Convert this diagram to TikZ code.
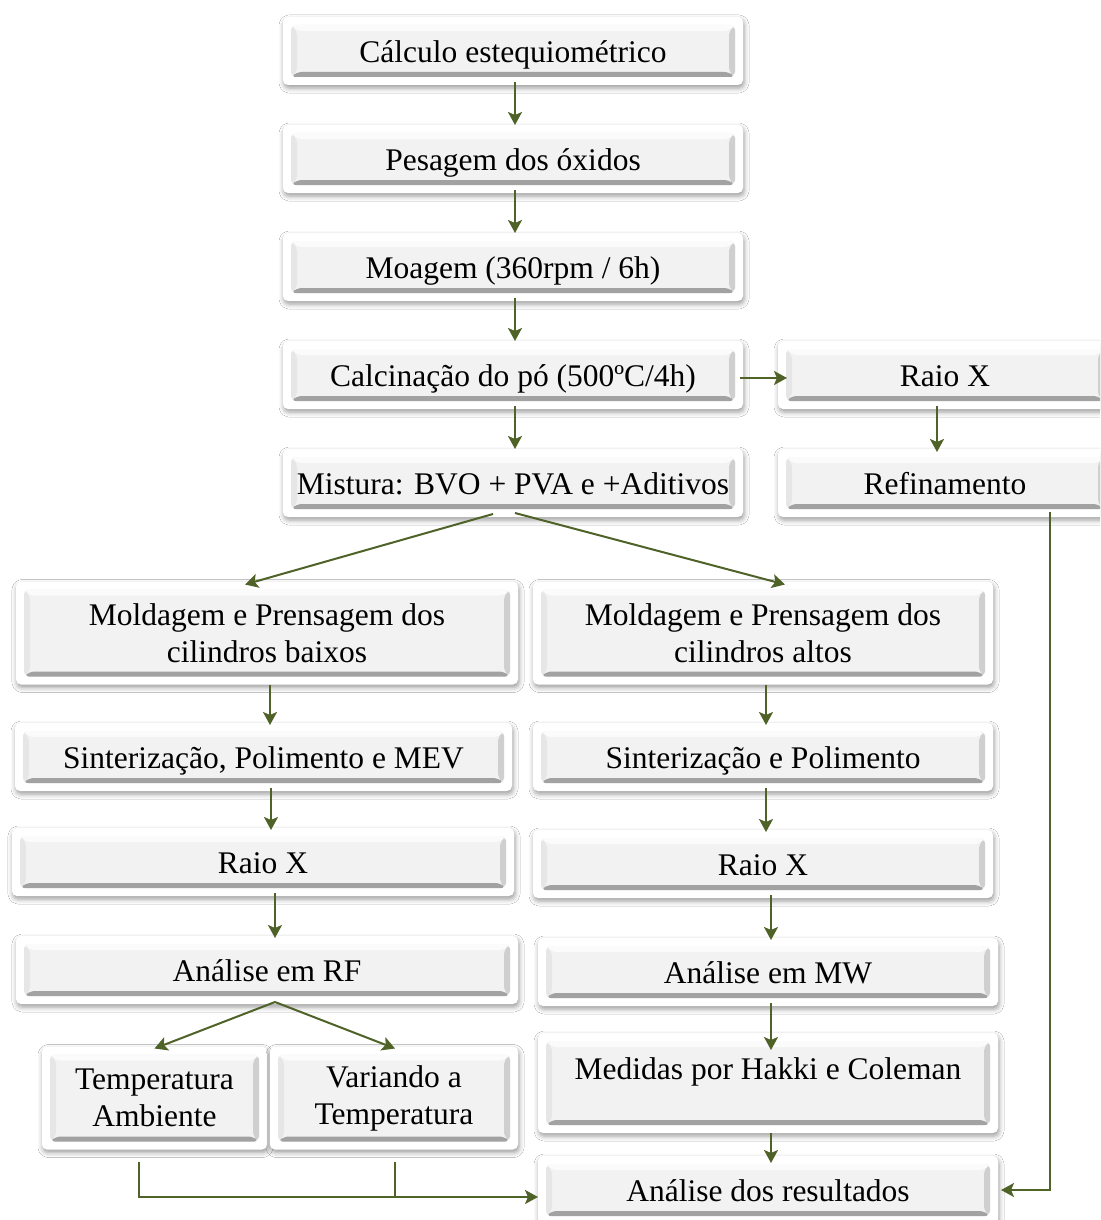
\documentclass[tikz,border=0pt]{standalone}
\usepackage{fontspec}
\setmainfont{Liberation Serif}
\usetikzlibrary{arrows.meta,shadows.blur,calc}
\definecolor{arrc}{HTML}{4F6228}
\definecolor{bvface}{HTML}{F2F2F2}
\definecolor{bvtop}{HTML}{FBFBFB}
\definecolor{bvleft}{HTML}{E6E6E6}
\definecolor{bvright}{HTML}{CFCFCF}
\definecolor{bvbot}{HTML}{A2A2A2}
\newcommand\boxfont{\fontsize{31.5}{37}\selectfont}
\newcommand\mybevel{%
 \fill[bvface] let \p1=(path picture bounding box.south west), \p2=(path picture bounding box.north east) in (\x1+8pt,\y1+8pt) rectangle (\x2-8pt,\y2-8pt);
 \fill[bvbot] let \p1=(path picture bounding box.south west), \p2=(path picture bounding box.north east) in (\x1+8pt,\y1+8pt) -- (\x2-8pt,\y1+8pt) -- (\x2-14pt,\y1+13pt) -- (\x1+14pt,\y1+13pt) -- cycle;
 \fill[bvright] let \p1=(path picture bounding box.south west), \p2=(path picture bounding box.north east) in (\x2-8pt,\y1+8pt) -- (\x2-8pt,\y2-8pt) -- (\x2-14pt,\y2-14pt) -- (\x2-14pt,\y1+13pt) -- cycle;
 \fill[bvtop] let \p1=(path picture bounding box.south west), \p2=(path picture bounding box.north east) in (\x2-8pt,\y2-8pt) -- (\x1+8pt,\y2-8pt) -- (\x1+14pt,\y2-14pt) -- (\x2-14pt,\y2-14pt) -- cycle;
 \fill[bvleft] let \p1=(path picture bounding box.south west), \p2=(path picture bounding box.north east) in (\x1+8pt,\y2-8pt) -- (\x1+8pt,\y1+8pt) -- (\x1+14pt,\y1+13pt) -- (\x1+14pt,\y2-14pt) -- cycle;
}
\tikzset{
  box/.style={rectangle, rounded corners=5pt, fill=white, inner sep=0pt, outer sep=0pt,
    blur shadow={shadow xshift=1pt, shadow yshift=-3pt, shadow blur radius=5pt, shadow opacity=40},
    path picture={\mybevel}, font=\boxfont, text=black},
  one/.style={text height=26pt, text depth=3pt},
  two/.style={align=center},
  arr/.style={draw=arrc, line width=2pt, -{Stealth[length=13pt,width=14pt,inset=3pt]}},
  ln/.style={draw=arrc, line width=2pt}
}
\begin{document}
\begin{tikzpicture}[x=1pt,y=-1pt]
\useasboundingbox (0,0) rectangle (1100,1220);
\clip (0,0) rectangle (1100,1220);
\fill[white] (0,0) rectangle (1100,1220);

% top column
\node[box,one,minimum width=460pt,minimum height=68pt] (calc) at (513,51) {Cálculo estequiométrico};
\node[box,one,minimum width=460pt,minimum height=68pt] (pes) at (513,159) {Pesagem dos óxidos};
\node[box,one,minimum width=460pt,minimum height=68pt] (moa) at (513,267) {Moagem (360rpm / 6h)};
\node[box,one,minimum width=460pt,minimum height=68pt] (calcin) at (513,375) {Calcinação do pó (500ºC/4h)};
\node[box,one,minimum width=460pt,minimum height=68pt] (mist) at (513,483) {Mistura: BVO + PVA e +Aditivos};

% right top
\node[box,one,minimum width=334pt,minimum height=68pt] (raioR) at (945,375) {Raio X};
\node[box,one,minimum width=334pt,minimum height=68pt] (ref) at (945,483) {Refinamento};

% left column
\node[box,two,minimum width=502pt,minimum height=103pt] (mbx) at (267,633) {Moldagem e Prensagem dos\\cilindros baixos};
\node[box,one,minimum width=497pt,minimum height=68pt] (sinL) at (263.5,757) {Sinterização, Polimento e MEV};
\node[box,one,minimum width=502pt,minimum height=68pt] (rxL) at (263,862) {Raio X};
\node[box,one,minimum width=502pt,minimum height=68pt] (rfL) at (267,970) {Análise em RF};
\node[box,two,minimum width=225pt,minimum height=103pt] (tamb) at (154.5,1098) {Temperatura\\Ambiente};
\node[box,two,minimum width=248pt,minimum height=103pt] (var) at (394,1098) {Variando a\\Temperatura};

% right column
\node[box,two,minimum width=460pt,minimum height=103pt] (mba) at (763,633) {Moldagem e Prensagem dos\\cilindros altos};
\node[box,one,minimum width=460pt,minimum height=68pt] (sinR) at (763,757) {Sinterização e Polimento};
\node[box,one,minimum width=460pt,minimum height=68pt] (rxR) at (763,864) {Raio X};
\node[box,one,minimum width=460pt,minimum height=68pt] (mw) at (768,972) {Análise em MW};
\node[box,minimum width=460pt,minimum height=100pt,text height=26pt,text depth=33pt] (med) at (768,1083) {Medidas por Hakki e Coleman};
\node[box,one,minimum width=460pt,minimum height=68pt] (res) at (768,1190) {Análise dos resultados};

% connectors: top column
\draw[arr] ([xshift=2pt,yshift=3pt]calc.south) -- ([xshift=2pt]pes.north);
\draw[arr] ([xshift=2pt,yshift=3pt]pes.south) -- ([xshift=2pt]moa.north);
\draw[arr] ([xshift=2pt,yshift=3pt]moa.south) -- ([xshift=2pt]calcin.north);
\draw[arr] ([xshift=2pt,yshift=3pt]calcin.south) -- ([xshift=2pt]mist.north);
\draw[arr] ([xshift=-3pt,yshift=-3pt]calcin.east) -- ([xshift=9pt,yshift=-3pt]raioR.west);
\draw[arr] ([xshift=-8pt,yshift=3pt]raioR.south) -- ([xshift=-8pt,yshift=-3pt]ref.north);

% split
\draw[arr] ([xshift=-20pt,yshift=3pt]mist.south) -- ([xshift=-22pt,yshift=-3pt]mbx.north);
\draw[arr] ([xshift=2pt,yshift=4pt]mist.south) -- ([xshift=22pt,yshift=-3pt]mba.north);

% left column
\draw[arr] ([xshift=3pt]mbx.south) -- ([xshift=6.5pt,yshift=-2pt]sinL.north);
\draw[arr] ([xshift=7.5pt,yshift=3pt]sinL.south) -- ([xshift=8pt,yshift=-2pt]rxL.north);
\draw[arr] ([xshift=12pt,yshift=3pt]rxL.south) -- ([xshift=8pt,yshift=-2pt]rfL.north);
\draw[arr] ([xshift=8pt,yshift=2pt]rfL.south) -- ([xshift=0pt,yshift=-2pt]tamb.north);
\draw[arr] ([xshift=8pt,yshift=2pt]rfL.south) -- ([xshift=1pt,yshift=-2pt]var.north);

% right column
\draw[arr] ([xshift=3pt]mba.south) -- ([xshift=3pt,yshift=-2pt]sinR.north);
\draw[arr] ([xshift=3pt,yshift=3pt]sinR.south) -- ([xshift=3pt,yshift=-2pt]rxR.north);
\draw[arr] ([xshift=8pt,yshift=3pt]rxR.south) -- ([xshift=3pt,yshift=-2pt]mw.north);
\draw[arr] ([xshift=3pt,yshift=3pt]mw.south) -- ([xshift=3pt,yshift=-17pt]med.north);
\draw[arr] ([xshift=3pt]med.south) -- ([xshift=3pt,yshift=-7pt]res.north);

% bottom joins
\coordinate (j) at ([yshift=-7pt]res.west);
\draw[arr] ([xshift=-16pt,yshift=-12pt]tamb.south) |- (j);
\draw[ln] ([xshift=1pt,yshift=-12pt]var.south) -- ([xshift=1pt]var.south |- j);
\draw[arr] ([xshift=105pt,yshift=5pt]ref.south) |- ([xshift=3pt]res.east);
\end{tikzpicture}
\end{document}
